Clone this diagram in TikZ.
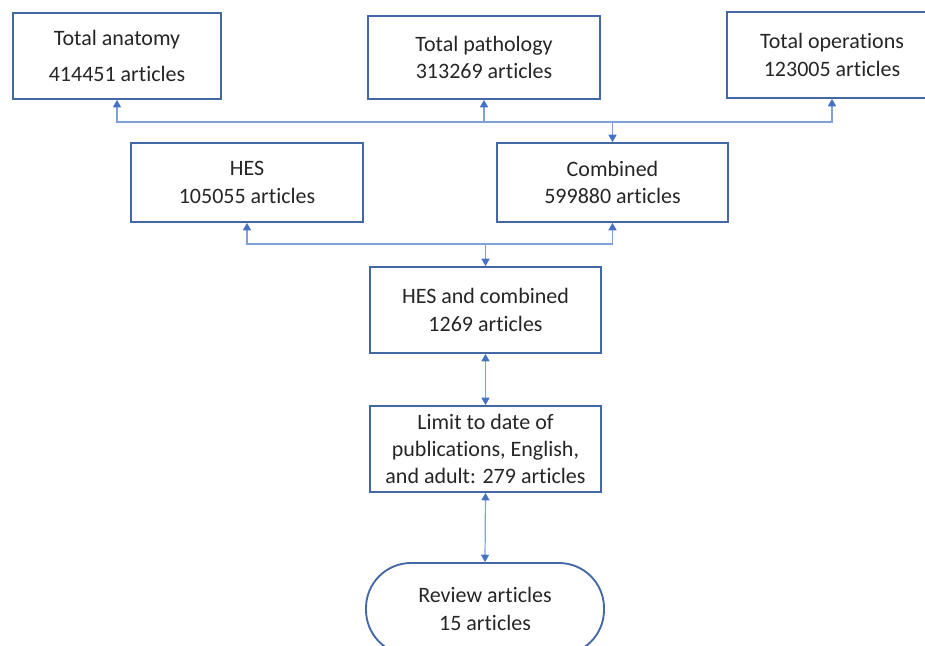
\documentclass[tikz,border=0pt]{standalone}
\usepackage{fontspec}
\setmainfont{Carlito}[Ligatures={NoCommon,NoDiscretionary,NoRare}]
\usetikzlibrary{arrows.meta}
\definecolor{boxline}{RGB}{68,104,166}
\definecolor{connline}{RGB}{128,160,218}
\definecolor{tipblue}{RGB}{68,114,196}
\definecolor{txt}{RGB}{38,38,38}
\tikzset{
  stepbox/.style={draw=boxline, line width=1.4pt, fill=white, text=txt, align=center,
    inner sep=0pt, font=\fontsize{16.5}{20.5}\selectfont},
  conn/.style={draw=connline, line width=0.9pt,
    -{Triangle[width=6pt,length=5.5pt,color=tipblue]}},
  bothconn/.style={draw=connline, line width=0.9pt,
    {Triangle[width=6pt,length=5.5pt,color=tipblue]}-{Triangle[width=6pt,length=5.5pt,color=tipblue]}},
}
\begin{document}
\begin{tikzpicture}[x=0.75pt,y=-0.75pt]
\useasboundingbox (0,0) rectangle (925,646);

% search terms
\node[stepbox, minimum width=208*0.75pt, minimum height=86*0.75pt,
  font=\fontsize{16.5}{27.5}\selectfont] (anat) at (117,56) {Total anatomy\\414451 articles};
\node[stepbox, minimum width=232*0.75pt, minimum height=83*0.75pt] (path) at (484,57.5) {Total pathology\\313269 articles};
\node[stepbox, minimum width=210*0.75pt, minimum height=86*0.75pt] (oper) at (832,55) {Total operations\\123005 articles};

% second level
\node[stepbox, minimum width=232*0.75pt, minimum height=79*0.75pt] (hes) at (247,182.5) {HES\\105055 articles};
\node[stepbox, minimum width=231*0.75pt, minimum height=79*0.75pt] (comb) at (612.5,182.5) {Combined\\599880 articles};

% merged results
\node[stepbox, minimum width=231*0.75pt, minimum height=86*0.75pt] (hc) at (485.5,310) {HES and combined\\1269 articles};
\node[stepbox, minimum width=231*0.75pt, minimum height=86*0.75pt] (lim) at (485.5,449) {Limit to date of\\publications, English,\\and adult: 279 articles};
\node[stepbox, minimum width=238*0.75pt, minimum height=92*0.75pt, rounded corners=45*0.75pt] (rev) at (485,609) {Review articles\\15 articles};

% junctions of the branching connectors
\coordinate (b1) at (612.5,122);
\coordinate (b2) at (485.5,244);

\draw[conn] (b1) -| (anat.south);
\draw[conn] (b1) -| (path.south);
\draw[conn] (b1) -| (oper.south);
\draw[conn] (b1) -- (comb.north);

\draw[conn] (b2) -| (hes.south);
\draw[conn] (b2) -| (comb.south);
\draw[conn] (b2) -- (hc.north);

\draw[bothconn] (hc.south) -- (lim.north);
\draw[bothconn] (lim.south) -- (rev.north);
\end{tikzpicture}
\end{document}
